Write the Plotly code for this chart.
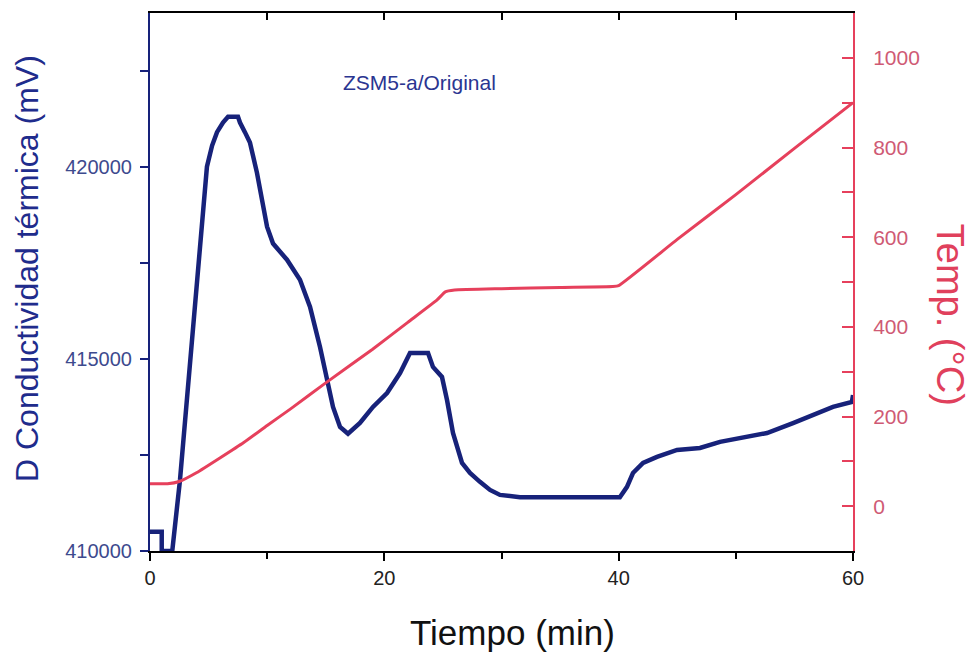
import plotly.graph_objects as go

# Thermal conductivity detector signal (mV) vs time (min)
tcd_time = [0.0, 1.0, 1.0, 1.9, 2.56, 3.4, 4.44, 4.86, 5.3, 5.72, 6.23, 6.66,
            7.51, 7.68, 8.1, 8.53, 9.13, 9.99, 10.50, 11.69, 12.80, 13.66,
            14.51, 15.11, 15.62, 16.22, 16.90, 17.92, 19.03, 20.23, 21.34, 22.19,
            23.73, 24.15, 24.92, 25.35, 25.86, 26.63, 27.31, 28.16, 29.02, 29.87,
            31.58, 35.0, 40.1, 40.71, 41.22, 42.08, 43.27, 44.98, 46.94, 48.65,
            50.61, 52.66, 54.88, 56.59, 58.29, 59.91, 60.0]
tcd_signal = [410500, 410500, 410000, 410000, 411850, 414800, 418360, 420000,
              420550, 420900, 421150, 421300, 421300, 421150, 420900, 420630,
              419840, 418440, 418000, 417580, 417060, 416350, 415310, 414530,
              413750, 413230, 413050, 413330, 413750, 414110, 414630, 415150,
              415150, 414790, 414530, 413930, 413070, 412290, 412030, 411800,
              411590, 411460, 411400, 411400, 411400, 411670, 412030, 412290,
              412450, 412630, 412680, 412840, 412940, 413070, 413330, 413540,
              413750, 413880, 414060]

# Furnace temperature programme (°C)
temp_time = [0.0, 1.5, 2.5, 4.0, 6.0, 8.0, 10.0, 12.0, 15.0, 19.0, 22.0, 24.5,
             25.2, 26.0, 30.0, 35.0, 39.5, 40.0, 45.0, 50.0, 55.0, 60.0]
temp_values = [50, 50, 55, 75, 108, 142, 180, 217, 275, 350, 410, 460,
               478, 482, 485, 488, 490, 492, 595, 695, 798, 900]

x_ticks = [0, 20, 40, 60]
left_ticks = [410000, 415000, 420000]
right_ticks = [0, 200, 400, 600, 800, 1000]

BLUE = "#17227a"
RED = "#e6405c"
FONT = "Liberation Sans, Arial, sans-serif"

fig = go.Figure()
fig.add_trace(go.Scatter(x=tcd_time, y=tcd_signal, mode="lines",
                         line=dict(color=BLUE, width=4.5), showlegend=False,
                         xaxis="x", yaxis="y"))
fig.add_trace(go.Scatter(x=temp_time, y=temp_values, mode="lines",
                         line=dict(color=RED, width=3, shape="spline", smoothing=0.4),
                         showlegend=False, xaxis="x", yaxis="y2"))
# invisible trace so the top frame axis gets drawn
fig.add_trace(go.Scatter(x=[0, 60], y=[410000, 410000], mode="lines",
                         line=dict(width=0), opacity=0, showlegend=False,
                         hoverinfo="skip", xaxis="x2", yaxis="y"))

fig.update_layout(
    width=973, height=653,
    margin=dict(l=150, r=120, t=13, b=102, autoexpand=False),
    paper_bgcolor="white", plot_bgcolor="white",
    font=dict(family=FONT),
    xaxis=dict(range=[0, 60], tickvals=x_ticks, showgrid=False, zeroline=False,
               showline=True, linecolor="black", linewidth=2, automargin=False,
               ticks="outside", ticklen=8, tickwidth=2, tickcolor="black",
               minor=dict(dtick=10, ticks="outside", ticklen=6, tickwidth=2,
                          tickcolor="black"),
               tickfont=dict(size=20, color="#222222")),
    xaxis2=dict(range=[0, 60], overlaying="x", side="top", dtick=10,
                showgrid=False, zeroline=False, showticklabels=False,
                showline=True, linecolor="black", linewidth=2, automargin=False,
                ticks="inside", ticklen=7, tickwidth=2, tickcolor="black"),
    yaxis=dict(range=[410000, 424000], tickvals=left_ticks, showgrid=False,
               zeroline=False, showline=True, linecolor=BLUE, linewidth=2,
               automargin=False,
               ticks="outside", ticklen=8, tickwidth=2, tickcolor=BLUE,
               minor=dict(dtick=2500, ticks="outside", ticklen=8, tickwidth=2,
                          tickcolor=BLUE),
               tickformat="d", ticklabelstandoff=4,
               tickfont=dict(size=20, color="#3d4a8e")),
    yaxis2=dict(range=[-100, 1100], tickvals=right_ticks, overlaying="y",
                side="right", showgrid=False, zeroline=False, automargin=False,
                showline=True, linecolor=RED, linewidth=2,
                ticks="inside", ticklen=11, tickwidth=2, tickcolor=RED,
                minor=dict(dtick=100, ticks="inside", ticklen=11, tickwidth=2,
                           tickcolor=RED),
                ticklabelstandoff=14,
                tickfont=dict(size=21, color="#cf5a74")),
    annotations=[
        dict(text="ZSM5-a/Original", x=23.0, y=0.896, xref="x", yref="paper",
             showarrow=False, font=dict(size=21, color="#2a3591")),
        # axis titles
        dict(text="Tiempo (min)", x=0.515, y=-0.1506, xref="paper", yref="paper",
             showarrow=False, xanchor="center", yanchor="middle",
             font=dict(size=35, color="#111111")),
        dict(text="D Conductividad térmica (mV)", x=-0.175, y=0.526,
             xref="paper", yref="paper", showarrow=False, textangle=-90,
             xanchor="center", yanchor="middle",
             font=dict(size=32, color="#1f2c8c")),
        dict(text="Temp. (°C)", x=1.138, y=0.439, xref="paper", yref="paper",
             showarrow=False, textangle=90, xanchor="center", yanchor="middle",
             font=dict(size=38, color="#e0405c")),
    ],
)

fig.write_html("out.html")
